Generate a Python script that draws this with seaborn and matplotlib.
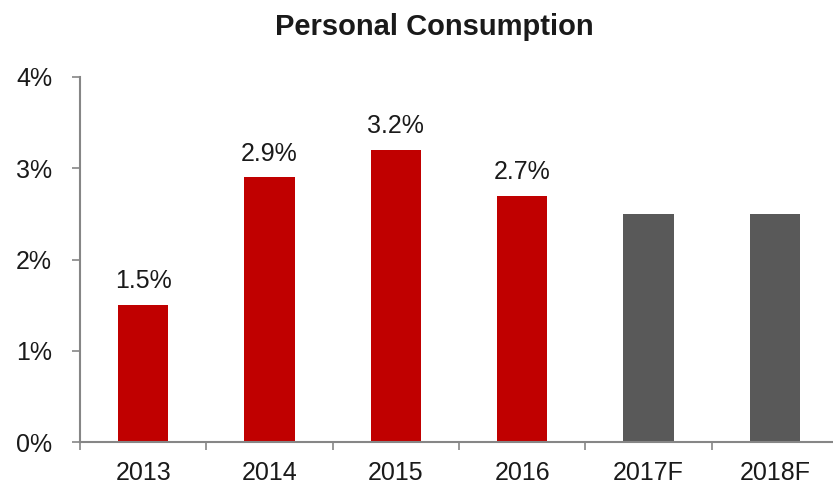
import matplotlib
matplotlib.use('Agg')
import matplotlib.pyplot as plt
from matplotlib.ticker import FixedLocator, FuncFormatter
import seaborn as sns

# Chart data
years = ['2013', '2014', '2015', '2016', '2017F', '2018F']
growth = [1.5, 2.9, 3.2, 2.7, 2.5, 2.5]
is_forecast = [False, False, False, False, True, True]

sns.set_style('white')
plt.rcParams['font.family'] = ['Liberation Sans', 'DejaVu Sans']

red = '#C00000'
gray = '#595959'
colors = [gray if f else red for f in is_forecast]

fig = plt.figure(figsize=(8.33, 4.93), dpi=100)
ax = fig.add_axes([80 / 833, 51 / 493, 758 / 833, 365 / 493])

sns.barplot(x=years, y=growth, hue=years, palette=colors, legend=False,
            width=0.4, saturation=1, linewidth=0, ax=ax)

ax.set_xlim(-0.5, len(years) - 0.5)
ax.set_ylim(0, 4)
ax.set_yticks([0, 1, 2, 3, 4])
ax.yaxis.set_major_formatter(FuncFormatter(lambda v, _: f'{v:.0f}%'))
ax.set_xlabel('')
ax.set_ylabel('')

# Spines and ticks
for side in ['top', 'right']:
    ax.spines[side].set_visible(False)
for side in ['left', 'bottom']:
    ax.spines[side].set_color('#868686')
    ax.spines[side].set_linewidth(1.5)

ax.tick_params(axis='y', direction='out', length=6, width=1.2, color='#868686',
               labelsize=18, pad=14, left=True, labelcolor='#1a1a1a')
ax.tick_params(axis='x', which='major', length=0, labelsize=18, pad=14,
               labelcolor='#1a1a1a')
ax.xaxis.set_minor_locator(FixedLocator([i - 0.5 for i in range(len(years) + 1)]))
ax.tick_params(axis='x', which='minor', direction='out', length=6, width=1.2,
               color='#868686', bottom=True)

# Value labels on actual (non-forecast) bars
for bar, value, f in zip(ax.patches, growth, is_forecast):
    if f:
        continue
    ax.text(bar.get_x() + bar.get_width() / 2, value + 0.13, f'{value:.1f}%',
            ha='center', va='bottom', fontsize=18, color='#1a1a1a')

fig.text(434 / 833, 1 - 27 / 493, 'Personal Consumption', ha='center', va='center',
         fontsize=21, fontweight='bold', color='#1a1a1a')

fig.savefig('out.png', dpi=100)
